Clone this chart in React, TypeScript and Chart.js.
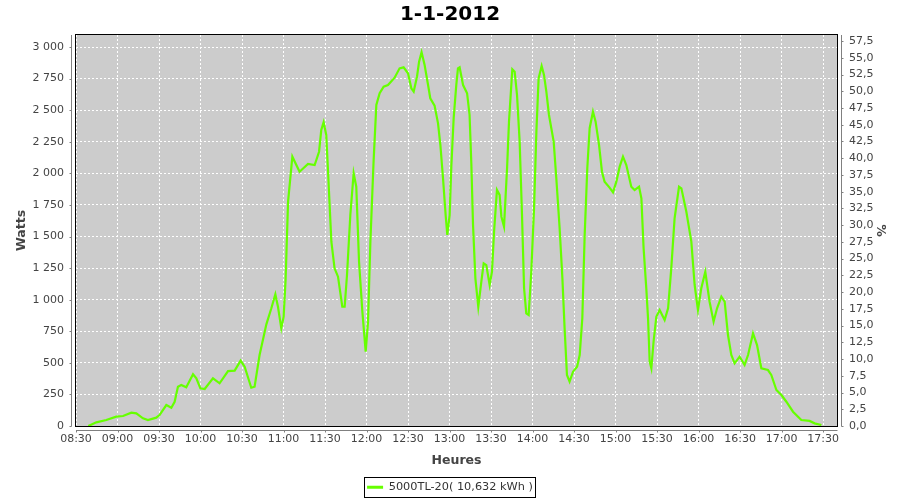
import React, { useEffect, useRef } from "react";
import { Chart, registerables } from "chart.js";

Chart.register(...registerables);

const TITLE = "1-1-2012";
const SERIES_LABEL = "5000TL-20( 10,632 kWh )";
const X_TITLE = "Heures";
const Y_TITLE = "Watts";
const Y2_TITLE = "%";

// x axis in minutes since midnight
const X_MIN = 510;
const X_MAX = 1060.1;
const X_STEP = 30;
const Y_MAX = 3095;
const Y_STEP = 250;
const PCT_MAX = 58.4;
const PCT_STEP = 2.5;

const TIMES = [
  518.9, 524.7, 531.9, 539.1, 544.0, 550.0, 553.6, 558.4, 562.0, 568.0,
  570.4, 575.3, 578.9, 581.3, 583.7, 586.1, 589.7, 594.6, 597.0, 599.9,
  603.0, 609.0, 613.8, 619.9, 624.7, 629.0, 631.9, 636.7, 639.1, 642.7,
  647.6,
  651.2, 654.1, 656.0, 658.4, 660.1, 661.5, 663.3, 666.4, 671.6, 677.7,
  682.5, 685.7, 687.3, 689.0, 690.9, 692.2, 694.6, 696.9, 699.4, 702.5,
  704.2, 705.9, 708.3, 710.7, 712.6, 714.6, 717.0, 719.4, 721.1, 722.8,
  725.1, 727.1, 729.5, 732.4, 735.5, 740.3, 743.9, 746.8, 750.0, 752.4,
  754.1, 756.5, 758.0, 759.8, 762.0, 764.5, 766.1, 769.2, 771.7, 773.4,
  775.3, 777.2, 778.4, 780.1, 781.3, 783.0, 784.9,
  786.1, 787.3, 789.8, 792.7, 794.5, 795.8, 797.0, 798.7, 800.8, 803.0,
  804.7, 806.6, 809.0, 810.7, 812.2, 814.3, 816.2, 817.5, 819.4, 821.6,
  823.0, 825.4, 827.1, 828.8, 830.7, 832.4, 833.9, 835.5, 837.2, 839.1,
  841.1, 842.8, 844.4, 846.6, 848.3, 850.0, 851.9, 855.3, 857.2, 859.6,
  861.6, 863.2, 864.9, 866.8, 869.3, 872.2, 874.1, 876.0, 877.7, 879.6,
  881.3, 883.7, 885.6, 888.1, 890.2, 892.1, 895.7, 898.2, 900.6, 903.0,
  905.4, 907.8, 911.4, 913.8, 917.0, 918.7, 920.3, 922.3,
  923.5, 924.7, 925.9, 927.5, 929.5, 931.9, 935.5, 938.0, 940.3, 942.7,
  945.9, 947.6, 951.2, 954.8, 957.2, 959.6, 962.0, 964.9, 968.0, 970.9,
  973.4, 976.5, 978.9, 981.3, 983.7, 986.1, 989.7, 993.3, 995.8, 999.4,
  1002.3, 1005.4, 1010.2, 1012.6, 1016.3, 1019.9, 1023.5, 1028.3, 1034.3, 1040.3,
  1043.9, 1048.8,
];

const WATTS = [
  0, 29, 47, 74, 79, 105, 100, 61, 47, 66,
  87, 166, 145, 192, 311, 324, 306, 409, 377, 298,
  293, 377, 338, 435, 438, 517, 469, 303, 311, 562,
  805,
  932, 1043, 944, 773, 865, 1156, 1776, 2132, 2013, 2074,
  2066, 2171, 2343, 2404, 2304, 2013, 1459, 1248, 1182, 944,
  944, 1195, 1670, 2000, 1894, 1300, 905, 588, 826, 1459,
  2092, 2541, 2634, 2686, 2699, 2757, 2831, 2839, 2792, 2673,
  2647, 2765, 2884, 2958, 2858, 2699, 2594, 2536, 2396, 2224,
  1961, 1670, 1512, 1670, 2053, 2436, 2700,
  2831, 2839, 2699, 2634, 2462, 2066, 1591, 1169, 944, 1142,
  1288, 1274, 1116, 1221, 1538, 1868, 1829, 1657, 1578, 2040,
  2409, 2824, 2805, 2620, 2251, 1670, 1090, 892, 879, 1221,
  1723, 2330, 2752, 2850, 2779, 2647, 2462, 2251, 1961, 1565,
  1169, 773, 404, 351, 430, 469, 562, 853, 1512, 2040,
  2357, 2488, 2409, 2224, 2013, 1934, 1887, 1850, 1934, 2053,
  2132, 2066, 1894, 1868, 1894, 1802, 1407, 1080,
  853, 509, 457, 667, 865, 918, 839, 932, 1248, 1644,
  1894, 1881, 1696, 1459, 1116, 918, 1090, 1221, 984, 826,
  932, 1024, 984, 720, 562, 496, 549, 483, 562, 734,
  641, 457, 443, 404, 285, 245, 192, 113, 47, 40,
  21, 8,
];

const FONT = "'DejaVu Sans', 'Liberation Sans', sans-serif";
const LINE_COLOR = "#66ff00";
const TEXT_COLOR = "#444444";

const CANVAS_W = 900;
const CANVAS_H = 503;
const PLOT_LEFT = 76;
const PLOT_RIGHT = 837;
const PLOT_BOTTOM = 426;

function fmtTime(v: number): string {
  const h = Math.floor(v / 60);
  const m = Math.round(v - h * 60);
  return String(h).padStart(2, "0") + ":" + String(m).padStart(2, "0");
}

function fmtWatts(v: number): string {
  const n = Math.round(v);
  if (n >= 1000) {
    return Math.floor(n / 1000) + " " + String(n % 1000).padStart(3, "0");
  }
  return String(n);
}

function fmtPct(v: number): string {
  return v.toFixed(1).replace(".", ",");
}

const framePlugin = {
  id: "frame",
  beforeDraw(chart: any) {
    const { ctx, chartArea } = chart;
    if (!chartArea) return;
    ctx.save();
    ctx.fillStyle = "#cccccc";
    ctx.fillRect(chartArea.left, chartArea.top, chartArea.right - chartArea.left, chartArea.bottom - chartArea.top);
    ctx.restore();
  },
  afterDraw(chart: any) {
    const { ctx, chartArea } = chart;
    if (!chartArea) return;
    const { left, right, top, bottom } = chartArea;
    ctx.save();
    ctx.strokeStyle = "#000000";
    ctx.lineWidth = 1;
    ctx.strokeRect(Math.round(left) - 0.5, Math.round(top) - 0.5, Math.round(right - left) + 1, Math.round(bottom - top) + 1);

    ctx.strokeStyle = "#808080";
    ctx.beginPath();
    const lx = Math.round(left) - 4.5;
    ctx.moveTo(lx, top);
    ctx.lineTo(lx, bottom + 0.5);
    const ys = chart.scales.y;
    ys.ticks.forEach((t: any) => {
      const py = Math.round(ys.getPixelForValue(t.value)) + 0.5;
      ctx.moveTo(lx - 2, py);
      ctx.lineTo(lx, py);
    });
    const rx = Math.round(right) + 4.5;
    ctx.moveTo(rx, top);
    ctx.lineTo(rx, bottom + 0.5);
    const y2 = chart.scales.y1;
    y2.ticks.forEach((t: any) => {
      const py = Math.round(y2.getPixelForValue(t.value)) + 0.5;
      ctx.moveTo(rx, py);
      ctx.lineTo(rx + 2, py);
    });
    const by = Math.round(bottom) + 4.5;
    ctx.moveTo(left, by);
    ctx.lineTo(right + 0.5, by);
    const xs = chart.scales.x;
    xs.ticks.forEach((t: any) => {
      const px = Math.round(xs.getPixelForValue(t.value)) + 0.5;
      ctx.moveTo(px, by);
      ctx.lineTo(px, by + 2);
    });
    ctx.stroke();

    const hb = chart.legend && chart.legend.legendHitBoxes && chart.legend.legendHitBoxes[0];
    if (hb) {
      ctx.strokeStyle = "#000000";
      ctx.strokeRect(Math.round(hb.left) - 2.5, Math.round(hb.top - 4.5) + 0.5, Math.round(hb.width) + 5, 20);
    }
    ctx.restore();
  },
};

export default function App() {
  const ref = useRef<HTMLCanvasElement | null>(null);

  useEffect(() => {
    const canvas = ref.current;
    if (!canvas) return;
    const points = TIMES.map((t, i) => ({ x: t, y: WATTS[i] }));
    const chart = new Chart(canvas, {
      type: "line",
      data: {
        datasets: [
          {
            label: SERIES_LABEL,
            data: points,
            borderColor: LINE_COLOR,
            backgroundColor: LINE_COLOR,
            borderWidth: 2.2,
            pointRadius: 0,
            pointHoverRadius: 0,
            tension: 0,
            fill: false,
            yAxisID: "y",
          },
        ],
      },
      options: {
        responsive: false,
        animation: false,
        parsing: false as any,
        layout: { padding: 0 },
        plugins: {
          title: {
            display: true,
            text: TITLE,
            color: "#000000",
            font: { family: FONT, size: 20, weight: "bold" },
            padding: { top: 2.5, bottom: 8.5 },
          },
          legend: {
            position: "bottom",
            labels: {
              usePointStyle: true,
              pointStyle: "line",
              pointStyleWidth: 16,
              color: "#333333",
              font: { family: FONT, size: 11.3 },
              padding: 8,
              generateLabels: (c: any) =>
                (Chart.defaults.plugins.legend.labels.generateLabels as any)(c).map((l: any) => ({
                  ...l,
                  lineWidth: 3,
                  strokeStyle: LINE_COLOR,
                })),
            },
          },
          tooltip: { enabled: false },
        },
        scales: {
          x: {
            type: "linear",
            position: "bottom",
            min: X_MIN,
            max: X_MAX,
            ticks: {
              stepSize: X_STEP,
              includeBounds: false,
              autoSkip: false,
              maxRotation: 0,
              color: TEXT_COLOR,
              font: { family: FONT, size: 11 },
              padding: 7,
              callback: (v: any) => fmtTime(Number(v)),
            },
            grid: { color: "#ffffff", lineWidth: 1, drawTicks: false },
            border: { display: false, dash: [2, 2] },
            title: {
              display: true,
              text: X_TITLE,
              color: TEXT_COLOR,
              font: { family: FONT, size: 12.5, weight: "bold" },
              padding: { top: 0, bottom: 5 },
            },
            afterFit: (s: any) => {
              const lh = s.chart.legend ? s.chart.legend.height : 29.5;
              s.height = CANVAS_H - PLOT_BOTTOM - lh;
            },
          },
          y: {
            type: "linear",
            position: "left",
            min: 0,
            max: Y_MAX,
            ticks: {
              stepSize: Y_STEP,
              includeBounds: false,
              color: TEXT_COLOR,
              font: { family: FONT, size: 11 },
              padding: 12,
              callback: (v: any) => fmtWatts(Number(v)),
            },
            grid: { color: "#ffffff", lineWidth: 1, drawTicks: false },
            border: { display: false, dash: [2, 2] },
            title: {
              display: true,
              text: Y_TITLE,
              color: TEXT_COLOR,
              font: { family: FONT, size: 12.5, weight: "bold" },
              padding: { top: 14.5, bottom: 0 },
            },
            afterFit: (s: any) => {
              s.width = PLOT_LEFT;
            },
          },
          y1: {
            type: "linear",
            position: "right",
            min: 0,
            max: PCT_MAX,
            ticks: {
              stepSize: PCT_STEP,
              includeBounds: false,
              color: TEXT_COLOR,
              font: { family: FONT, size: 11 },
              padding: 12,
              callback: (v: any) => fmtPct(Number(v)),
            },
            grid: { display: false, drawTicks: false },
            border: { display: false },
            title: {
              display: true,
              text: Y2_TITLE,
              color: TEXT_COLOR,
              font: { family: FONT, size: 12.5, weight: "bold" },
              padding: { top: 12.5, bottom: 0 },
            },
            afterFit: (s: any) => {
              s.width = CANVAS_W - PLOT_RIGHT;
            },
          },
        },
      } as any,
      plugins: [framePlugin],
    });
    return () => {
      chart.destroy();
    };
  }, []);

  return (
    <div
      style={{
        position: "fixed",
        left: 0,
        top: 0,
        width: CANVAS_W,
        height: 500,
        overflow: "hidden",
        background: "#ffffff",
      }}
    >
      <canvas
        ref={ref}
        width={CANVAS_W}
        height={CANVAS_H}
        style={{ display: "block", width: CANVAS_W, height: CANVAS_H }}
      />
    </div>
  );
}
